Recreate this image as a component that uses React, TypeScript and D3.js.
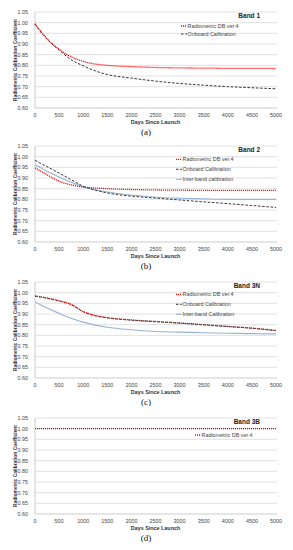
import React, { useRef, useLayoutEffect } from 'react';
import * as d3 from 'd3';

// days since launch sampled for every curve
const days = [0, 100, 250, 500, 750, 1000, 1250, 1500, 2000, 2500, 3000, 3500, 4000, 4500, 5000];
const flatDays = [0, 5000];

const band1Radiometric = [0.995, 0.965, 0.925, 0.875, 0.84, 0.818, 0.806, 0.8, 0.794, 0.79, 0.788, 0.787, 0.786, 0.786, 0.785];
const band1Onboard = [0.993, 0.962, 0.922, 0.872, 0.826, 0.798, 0.774, 0.757, 0.74, 0.726, 0.715, 0.707, 0.7, 0.695, 0.69];

const band2Radiometric = [0.947, 0.935, 0.915, 0.885, 0.868, 0.858, 0.853, 0.85, 0.846, 0.844, 0.843, 0.842, 0.842, 0.842, 0.842];
const band2Onboard = [0.983, 0.971, 0.953, 0.923, 0.892, 0.862, 0.843, 0.83, 0.815, 0.806, 0.797, 0.788, 0.78, 0.771, 0.762];
const band2Inter = [0.962, 0.95, 0.932, 0.905, 0.88, 0.858, 0.845, 0.834, 0.82, 0.81, 0.805, 0.802, 0.8, 0.8, 0.8];

const band3nRadiometric = [0.985, 0.981, 0.975, 0.962, 0.945, 0.912, 0.893, 0.883, 0.872, 0.865, 0.858, 0.85, 0.842, 0.834, 0.823];
const band3nOnboard = [0.984, 0.98, 0.974, 0.961, 0.944, 0.91, 0.892, 0.882, 0.871, 0.864, 0.857, 0.849, 0.841, 0.833, 0.822];
const band3nInter = [0.957, 0.945, 0.928, 0.903, 0.88, 0.862, 0.848, 0.838, 0.826, 0.818, 0.815, 0.812, 0.81, 0.808, 0.807];

const band3bRadiometric = [1.0, 1.0];

const yTicks = [0.6, 0.65, 0.7, 0.75, 0.8, 0.85, 0.9, 0.95, 1.0, 1.05];
const xTicks = [0, 500, 1000, 1500, 2000, 2500, 3000, 3500, 4000, 4500, 5000];

const FONT = "'Liberation Sans', Arial, sans-serif";

type Kind = 'radiometric' | 'onboard' | 'inter';

interface Series {
  label: string;
  kind: Kind;
  x: number[];
  y: number[];
}

interface PanelProps {
  top: number;
  band: string;
  caption: string;
  series: Series[];
  legendX: number;
  legendY: number;
  legendStep: number;
}

const styleOf = (k: Kind) => {
  if (k === 'radiometric') return { stroke: '#ff0000', width: 1.3, dash: '1.1,0.9' };
  if (k === 'onboard') return { stroke: '#222', width: 0.9, dash: '2.6,1.6' };
  return { stroke: '#95b3d7', width: 1.1, dash: null };
};

const Panel: React.FC<PanelProps> = ({ top, band, caption, series, legendX, legendY, legendStep }: PanelProps) => {
  const ref = useRef<SVGGElement>(null);

  useLayoutEffect(() => {
    const g = d3.select(ref.current);
    g.selectAll('*').remove();

    const x = d3.scaleLinear().domain([0, 5000]).range([35, 276]);
    const y = d3.scaleLinear().domain([0.6, 1.05]).range([108, 12]);

    // gridlines
    g.selectAll('line.grid')
      .data(yTicks)
      .enter()
      .append('line')
      .attr('x1', 35)
      .attr('x2', 277)
      .attr('y1', (d) => y(d))
      .attr('y2', (d) => y(d))
      .attr('stroke', (d) => (d === 0.6 ? '#bfbfbf' : '#d9d9d9'))
      .attr('stroke-width', 0.8);

    g.append('line')
      .attr('x1', 35)
      .attr('x2', 35)
      .attr('y1', y(1.05))
      .attr('y2', y(0.6))
      .attr('stroke', '#bfbfbf')
      .attr('stroke-width', 0.8);

    // tick labels
    g.selectAll('text.yt')
      .data(yTicks)
      .enter()
      .append('text')
      .attr('x', 28)
      .attr('y', (d) => y(d))
      .attr('dy', '0.35em')
      .attr('text-anchor', 'end')
      .attr('font-size', 5.4)
      .attr('font-family', FONT)
      .attr('fill', '#444')
      .text((d) => d3.format('.2f')(d));

    g.selectAll('text.xt')
      .data(xTicks)
      .enter()
      .append('text')
      .attr('x', (d) => x(d))
      .attr('y', 115)
      .attr('dy', '0.35em')
      .attr('text-anchor', 'middle')
      .attr('font-size', 5.4)
      .attr('font-family', FONT)
      .attr('fill', '#444')
      .text((d) => String(d));

    g.append('text')
      .attr('x', 155.5)
      .attr('y', 122.5)
      .attr('dy', '0.35em')
      .attr('text-anchor', 'middle')
      .attr('font-size', 5.4)
      .attr('font-weight', 'bold')
      .attr('font-family', FONT)
      .attr('fill', '#333')
      .text('Days Since Launch');

    g.append('text')
      .attr('transform', 'translate(15,60) rotate(-90)')
      .attr('dy', '0.35em')
      .attr('text-anchor', 'middle')
      .attr('font-size', 5.4)
      .attr('font-weight', 'bold')
      .attr('font-family', FONT)
      .attr('fill', '#333')
      .attr('textLength', 82)
      .attr('lengthAdjust', 'spacingAndGlyphs')
      .text('Radiometric Calibration Coefficient');

    // curves
    const line = d3
      .line<[number, number]>()
      .x((d) => x(d[0]))
      .y((d) => y(d[1]))
      .curve(d3.curveMonotoneX);

    // draw blue first, then black, red on top
    const order: Kind[] = ['inter', 'onboard', 'radiometric'];
    order.forEach((k) => {
      series
        .filter((s) => s.kind === k)
        .forEach((s) => {
          const st = styleOf(s.kind);
          const pts = s.x.map((d, i) => [d, s.y[i]] as [number, number]);
          const p = g
            .append('path')
            .attr('d', line(pts))
            .attr('fill', 'none')
            .attr('stroke', st.stroke)
            .attr('stroke-width', st.width);
          if (st.dash) p.attr('stroke-dasharray', st.dash);
        });
    });

    // band label
    g.append('text')
      .attr('x', 260)
      .attr('y', 16)
      .attr('dy', '0.35em')
      .attr('text-anchor', 'end')
      .attr('font-size', 6.5)
      .attr('font-weight', 'bold')
      .attr('font-family', FONT)
      .attr('fill', '#222')
      .text(band);

    // legend
    series.forEach((s, i) => {
      const st = styleOf(s.kind);
      const ly = legendY + i * legendStep;
      const l = g
        .append('line')
        .attr('x1', legendX)
        .attr('x2', legendX + 6)
        .attr('y1', ly)
        .attr('y2', ly)
        .attr('stroke', st.stroke)
        .attr('stroke-width', st.width);
      if (st.dash) l.attr('stroke-dasharray', st.dash);
      g.append('text')
        .attr('x', legendX + 6.5)
        .attr('y', ly)
        .attr('dy', '0.35em')
        .attr('font-size', 5.4)
        .attr('font-family', FONT)
        .attr('fill', '#444')
        .text(s.label);
    });

    // caption
    g.append('text')
      .attr('x', 146)
      .attr('y', 131.5)
      .attr('dy', '0.35em')
      .attr('text-anchor', 'middle')
      .attr('font-size', 9)
      .attr('font-family', "'Liberation Serif', 'Times New Roman', serif")
      .attr('fill', '#111')
      .text(caption);
  }, []);

  return <g ref={ref} transform={`translate(0,${top})`} />;
};

const App: React.FC = () => {
  return (
    <svg
      width={293}
      height={550}
      style={{ position: 'absolute', left: 0, top: 0, background: '#fff' }}
    >
      <Panel
        top={0}
        band="Band 1"
        caption="(a)"
        legendX={181}
        legendY={26}
        legendStep={8}
        series={[
          { label: 'Radiometric DB ver.4', kind: 'radiometric', x: days, y: band1Radiometric },
          { label: 'Onboard Calibration', kind: 'onboard', x: days, y: band1Onboard },
        ]}
      />
      <Panel
        top={134}
        band="Band 2"
        caption="(b)"
        legendX={176}
        legendY={25.3}
        legendStep={10}
        series={[
          { label: 'Radiometric DB ver.4', kind: 'radiometric', x: days, y: band2Radiometric },
          { label: 'Onboard Calibration', kind: 'onboard', x: days, y: band2Onboard },
          { label: 'Inter-band calibration', kind: 'inter', x: days, y: band2Inter },
        ]}
      />
      <Panel
        top={270}
        band="Band 3N"
        caption="(c)"
        legendX={176}
        legendY={24.3}
        legendStep={10}
        series={[
          { label: 'Radiometric DB ver.4', kind: 'radiometric', x: days, y: band3nRadiometric },
          { label: 'Onboard Calibration', kind: 'onboard', x: days, y: band3nOnboard },
          { label: 'Inter-band Calibration', kind: 'inter', x: days, y: band3nInter },
        ]}
      />
      <Panel
        top={406}
        band="Band 3B"
        caption="(d)"
        legendX={195}
        legendY={29}
        legendStep={10}
        series={[
          { label: 'Radiometric DB ver.4', kind: 'radiometric', x: flatDays, y: band3bRadiometric },
        ]}
      />
    </svg>
  );
};

export default App;
